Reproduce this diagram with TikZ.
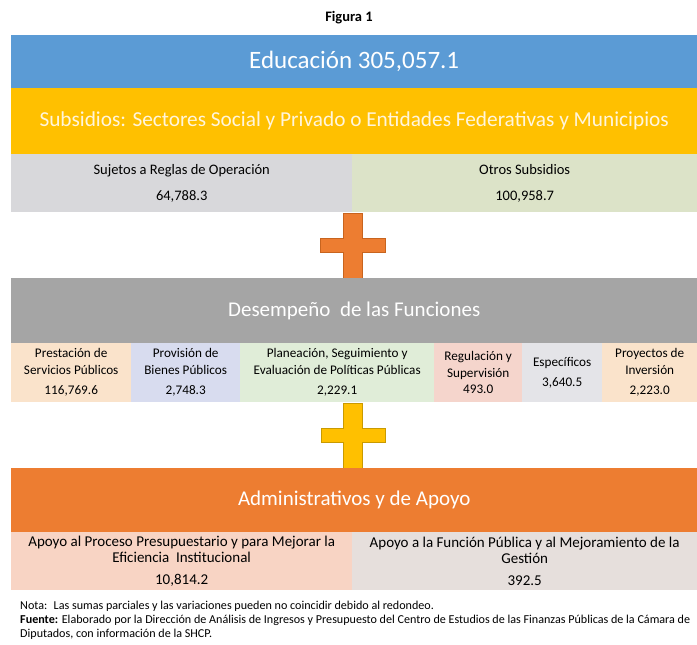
\documentclass[tikz,border=0pt]{standalone}
\usepackage{fontspec}
\setmainfont{Carlito}
\definecolor{eduBlue}{HTML}{5B9BD5}
\definecolor{subYellow}{HTML}{FFC000}
\definecolor{subText}{HTML}{FFF5DC}
\definecolor{sujGray}{HTML}{D8D8DB}
\definecolor{otrosGreen}{HTML}{DCE3C8}
\definecolor{desGray}{HTML}{A5A5A5}
\definecolor{prestPeach}{HTML}{FAE3CB}
\definecolor{provBlue}{HTML}{D8DCEF}
\definecolor{planGreen}{HTML}{E0EDD8}
\definecolor{regPink}{HTML}{F5D5CC}
\definecolor{espGray}{HTML}{E4E4E8}
\definecolor{admOrange}{HTML}{ED7D31}
\definecolor{apoyoPink}{HTML}{F8D4C4}
\definecolor{apoyoGray}{HTML}{E6DFDC}
\definecolor{plusOrange}{HTML}{C8641E}
\definecolor{plusYellow}{HTML}{C99A00}
\begin{document}
\begin{tikzpicture}
    [x = 1pt, y = -1pt,
     band/.style = {anchor = north west, inner sep = 0pt, text = white,
       font = \fontsize{21}{25}\selectfont},
     cell/.style = {anchor = north west, inner sep = 0pt, align = center,
       font = \fontsize{13.2}{16.5}\selectfont}]
    \useasboundingbox (0, 0) rectangle (697, 645);
    \node[font = \bfseries\fontsize{14.5}{16}\selectfont] (fig) at (349, 18) {Figura 1};
    \node[band, fill = eduBlue, minimum width = 686pt, minimum height = 53pt,
      font = \fontsize{25}{28}\selectfont] (edu) at (11, 35) {Educación 305,057.1};
    \node[band, fill = subYellow, text = subText, minimum width = 686pt,
      minimum height = 66pt, font = \fontsize{21.3}{24}\selectfont] (sub) at (11, 88)
      {Subsidios: Sectores Social y Privado o Entidades Federativas y Municipios};
    \node[cell, fill = sujGray, minimum width = 341pt, minimum height = 58pt,
      font = \fontsize{14.5}{17}\selectfont] (suj) at (11, 154)
      {Sujetos a Reglas de Operación\\[9pt]64,788.3};
    \node[cell, fill = otrosGreen, minimum width = 345pt, minimum height = 58pt,
      font = \fontsize{14.5}{17}\selectfont] (otros) at (352, 154)
      {Otros Subsidios\\[9pt]100,958.7};
    % signos de suma
    \filldraw[fill = admOrange, draw = plusOrange, line width = 0.8pt]
      (343, 213) -- (362, 213) -- (362, 238) -- (385, 238) -- (385, 252)
      -- (362, 252) -- (362, 278) -- (343, 278) -- (343, 252) -- (320, 252)
      -- (320, 238) -- (343, 238) -- cycle;
    \filldraw[fill = subYellow, draw = plusYellow, line width = 0.8pt]
      (343, 403) -- (362, 403) -- (362, 428) -- (385, 428) -- (385, 442)
      -- (362, 442) -- (362, 468) -- (343, 468) -- (343, 442) -- (321, 442)
      -- (321, 428) -- (343, 428) -- cycle;
    \node[band, fill = desGray, minimum width = 686pt, minimum height = 65pt]
      (des) at (11, 278) {Desempeño~ de las Funciones};
    \node[cell, fill = prestPeach, minimum width = 120pt, minimum height = 59pt]
      (prest) at (11, 343) {Prestación de\\Servicios Públicos\\[4pt]116,769.6};
    \node[cell, fill = provBlue, minimum width = 109pt, minimum height = 59pt]
      (prov) at (131, 343) {Provisión de\\Bienes Públicos\\[4pt]2,748.3};
    \node[cell, fill = planGreen, minimum width = 194pt, minimum height = 59pt]
      (plan) at (240, 343) {Planeación, Seguimiento y\\Evaluación de Políticas Públicas\\[4pt]2,229.1};
    \node[cell, fill = regPink, minimum width = 88pt, minimum height = 59pt]
      (reg) at (434, 343) {Regulación y\\Supervisión\\493.0};
    \node[cell, fill = espGray, minimum width = 80pt, minimum height = 59pt]
      (esp) at (522, 343) {Específicos\\[4pt]3,640.5};
    \node[cell, fill = prestPeach, minimum width = 95pt, minimum height = 59pt]
      (proy) at (602, 343) {Proyectos de\\Inversión\\[4pt]2,223.0};
    \node[band, fill = admOrange, minimum width = 686pt, minimum height = 64pt]
      (adm) at (11, 468) {Administrativos y de Apoyo};
    \node[cell, fill = apoyoPink, minimum width = 341pt, minimum height = 58pt,
      font = \fontsize{15}{16}\selectfont] (proc) at (11, 532)
      {Apoyo al Proceso Presupuestario y para Mejorar la\\Eficiencia~ Institucional\\[6pt]10,814.2};
    \node[cell, fill = apoyoGray, minimum width = 345pt, minimum height = 58pt,
      font = \fontsize{15}{16}\selectfont] (func) at (352, 532)
      {Apoyo a la Función Pública y al Mejoramiento de la\\Gestión\\[6pt]392.5};
    % notas
    \node[anchor = north west, inner sep = 0pt, align = left,
      font = \fontsize{12.1}{14}\selectfont] (nota) at (20, 601)
      {Nota:~ Las sumas parciales y las variaciones pueden no coincidir debido al redondeo.\\
       \textbf{Fuente:} Elaborado por la Dirección de Análisis de Ingresos y Presupuesto del Centro de Estudios de las Finanzas Públicas de la Cámara de\\
       Diputados, con información de la SHCP.};
\end{tikzpicture}
\end{document}
